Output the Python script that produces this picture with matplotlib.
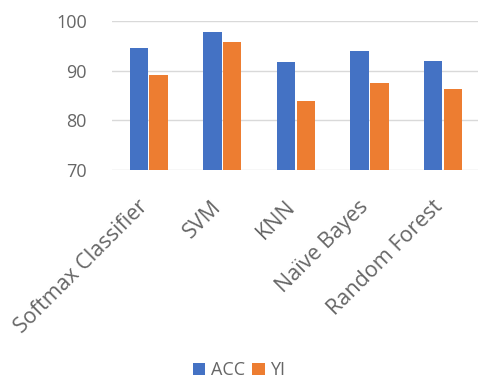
import numpy as np
import matplotlib.pyplot as plt
from matplotlib.transforms import ScaledTranslation

models = ["Softmax Classifier", "SVM", "KNN", "Naïve Bayes", "Random Forest"]
acc = [94.5, 97.8, 91.7, 93.9, 92.0]
yi = [89.2, 95.7, 83.8, 87.4, 86.3]

plt.rcParams['font.family'] = ['Open Sans', 'DejaVu Sans']

fig = plt.figure(figsize=(4.78, 3.79), dpi=100)
ax = fig.add_axes([0.234, 0.5515, 0.77, 0.3935])

x = np.arange(len(models))
w = 0.25
ax.bar(x - 0.135, acc, w, color='#4472C4', label='ACC', zorder=3)
ax.bar(x + 0.135, yi, w, color='#ED7D31', label='YI', zorder=3)

ax.set_ylim(70, 100)
ax.set_xlim(-0.5, len(models) - 0.5)
ax.set_yticks([70, 80, 90, 100])
ax.grid(axis='y', color='#d9d9d9', linewidth=1, zorder=0)
for s in ax.spines.values():
    s.set_visible(False)
ax.tick_params(length=0, labelsize=13, labelcolor='#666666')
ax.tick_params(axis='y', pad=18)
ax.tick_params(axis='x', pad=16, labelsize=15.5)
ax.set_xticks(x)
ax.set_xticklabels(models, rotation=45, ha='right', rotation_mode='anchor')
# nudge rotated labels a little left and down, like the original
shift = ScaledTranslation(-8 / 72, -3 / 72, fig.dpi_scale_trans)
for lbl in ax.get_xticklabels():
    lbl.set_transform(lbl.get_transform() + shift)

fig.legend(loc='center', bbox_to_anchor=(0.5, 0.023), ncol=2, frameon=False,
           fontsize=13, handlelength=0.7, handleheight=0.7, handletextpad=0.3,
           columnspacing=0.4, labelcolor='#666666')

fig.savefig("out.png")
